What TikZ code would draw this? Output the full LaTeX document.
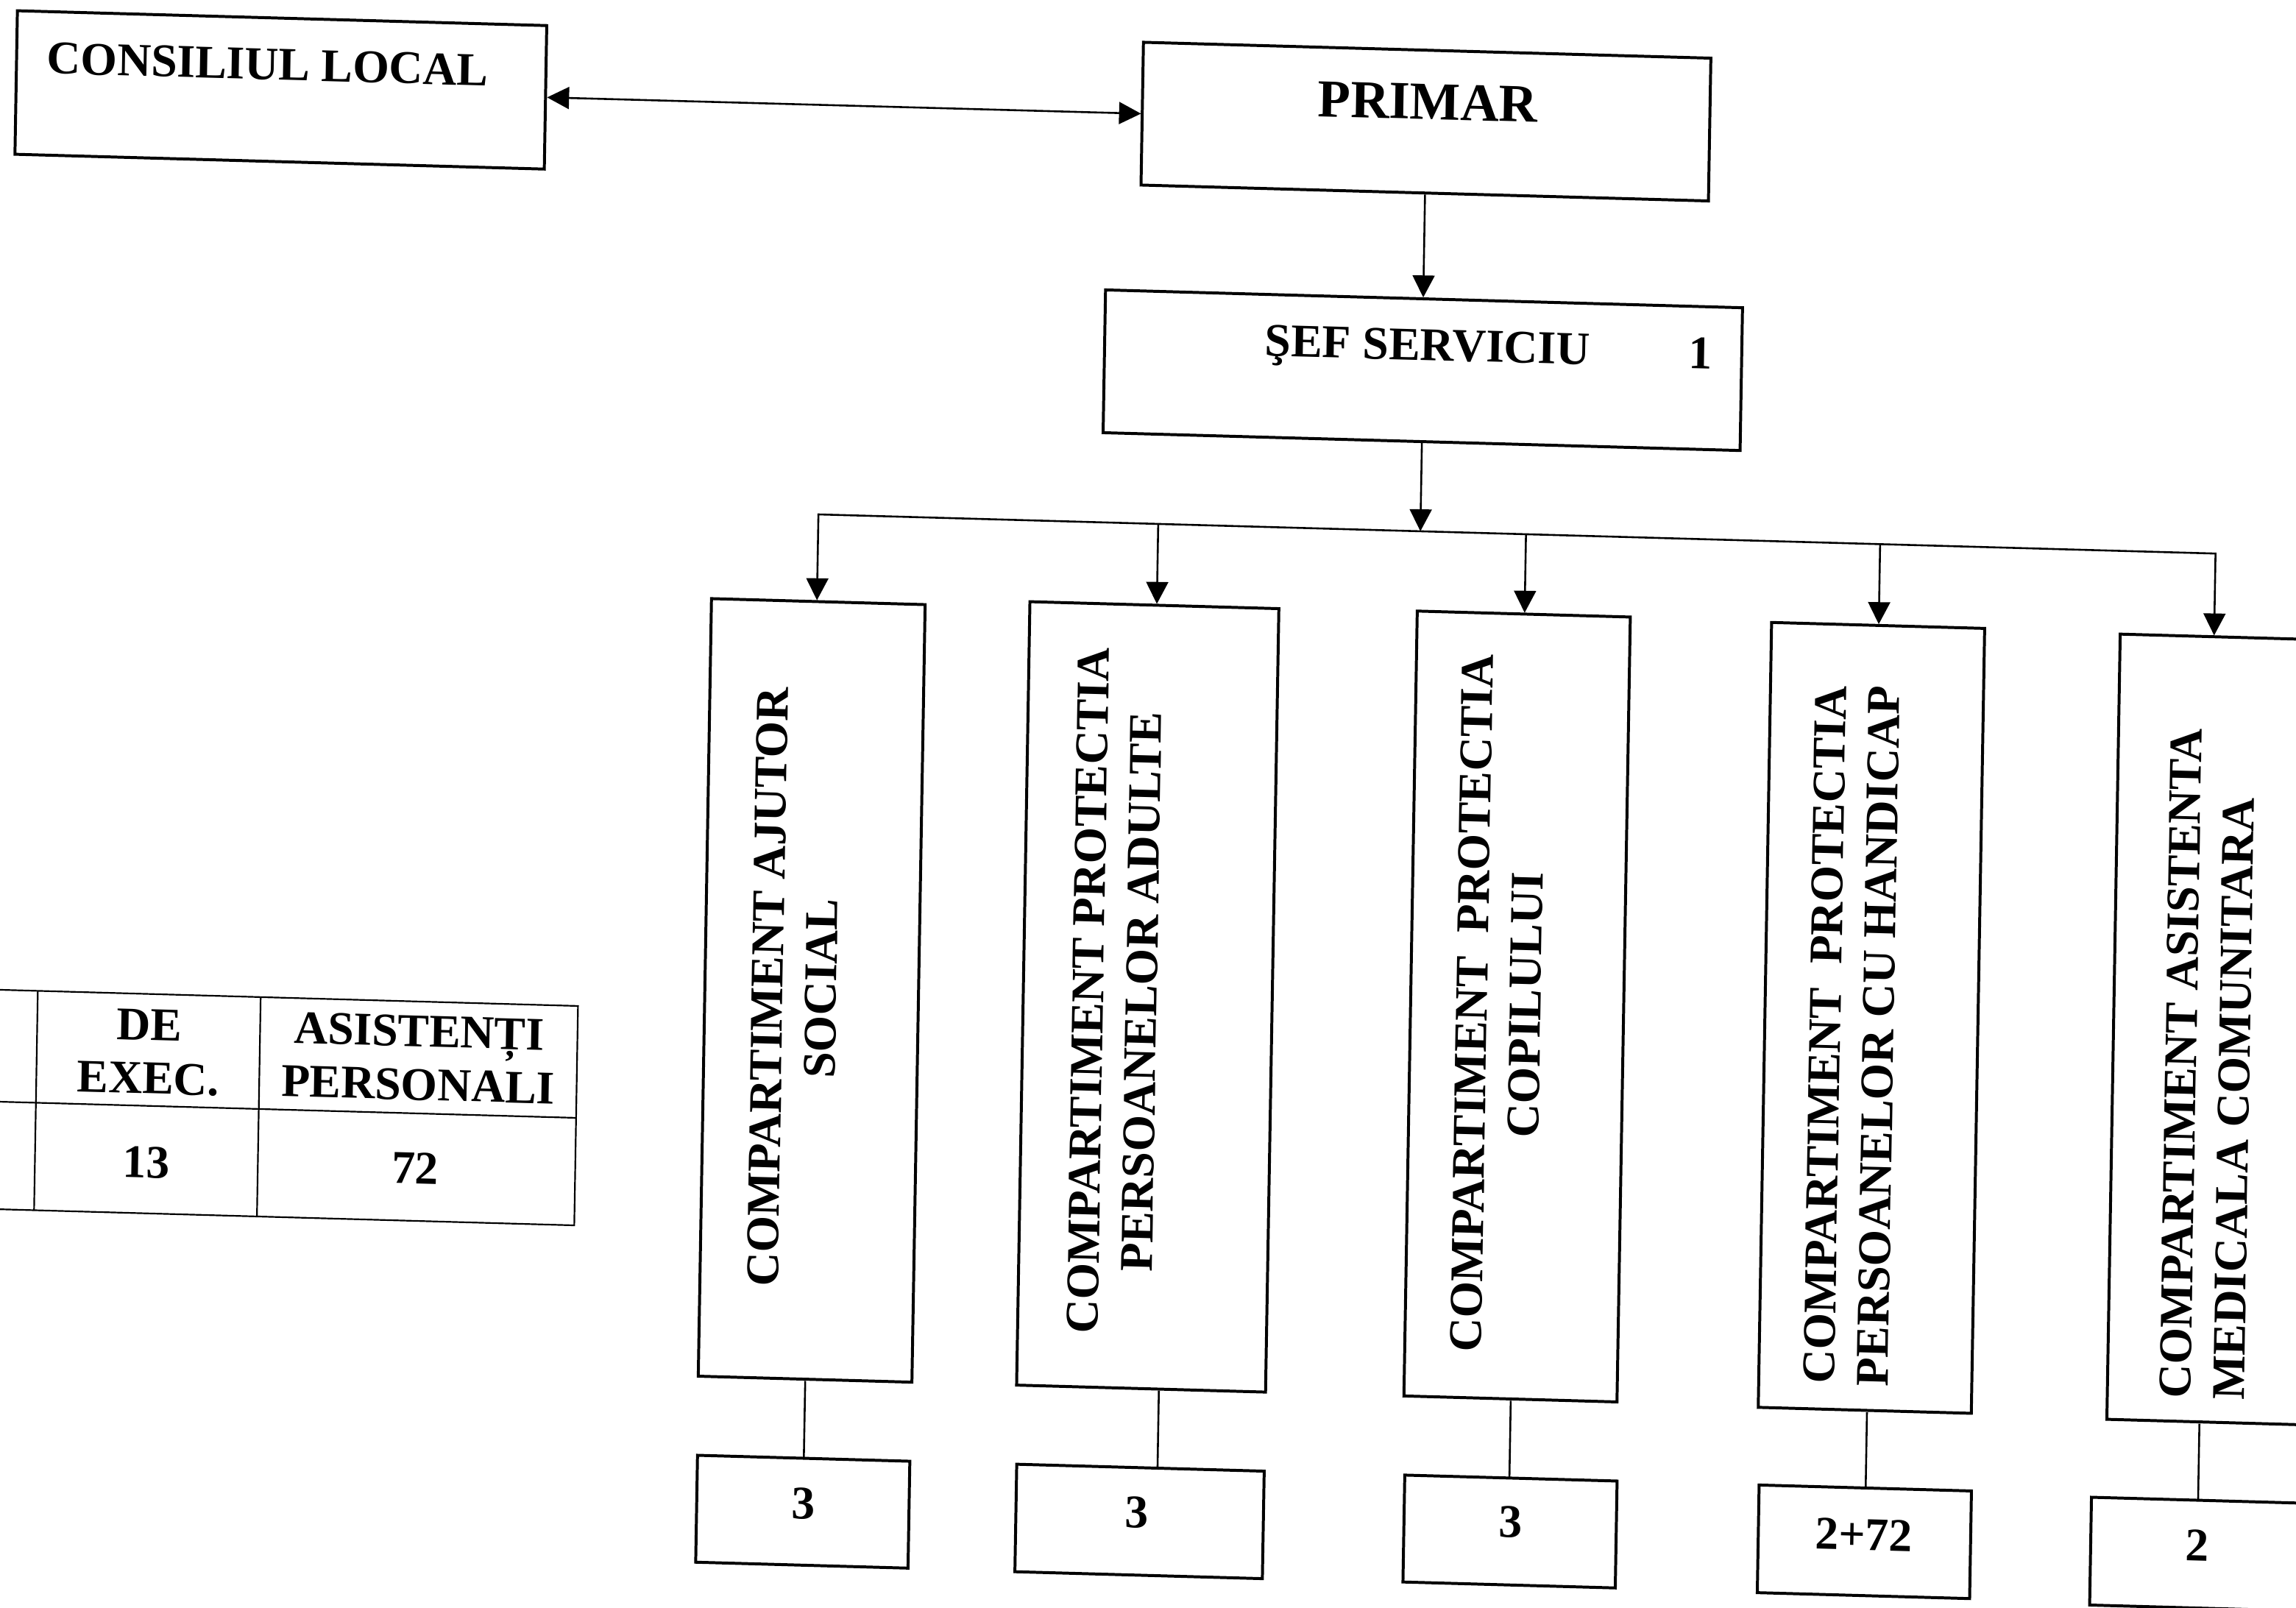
\documentclass[tikz,border=0pt]{standalone}
\usepackage{fontspec}
\setmainfont{Liberation Serif}
\usetikzlibrary{arrows.meta}
\begin{document}
\begin{tikzpicture}[x=1pt,y=-1pt,
  box/.style={draw, line width=2pt, rectangle, inner sep=0pt},
  conn/.style={line width=1.3pt, line cap=rect},
  arr/.style={line width=1.3pt, -{Triangle[length=15pt,width=15pt]}},
  darr/.style={line width=1.3pt, {Triangle[length=15pt,width=15pt]}-{Triangle[length=15pt,width=15pt]}},
  lbl/.style={font=\fontsize{32}{36.5}\selectfont\bfseries, inner sep=0pt, align=center},
  vlbl/.style={lbl, rotate=90},
  tbl/.style={line width=1.1pt}]
\useasboundingbox (0,0) rectangle (1568,1098);
\clip (0,0) rectangle (1568,1098);
\begin{scope}[cm={1,-0.028,0.017,1,(0,0)}, transform shape]
% top boxes
\node[box, minimum width=361.5pt, minimum height=98pt] (cons) at (192.75,56) {};
\node[box, minimum width=387.5pt, minimum height=97.5pt] (primar) at (974.75,55.75) {};
\node[box, minimum width=435pt, minimum height=97.5pt] (sef) at (975.5,225.5) {};
\node[lbl, anchor=base] (tcons) at (183.5,49.3) {CONSILIUL LOCAL};
\node[lbl, font=\fontsize{36.5}{40}\selectfont\bfseries, anchor=base] (tprim) at (975.9,54.2) {PRIMAR};
\node[lbl, anchor=base] (tsef) at (978.6,218.6) {ŞEF SERVICIU};
\node[lbl, anchor=base] (tsefn) at (1164.8,219.1) {1};
% tall boxes
\node[box, minimum width=145.9pt, minimum height=531pt] (b1) at (565.55,660.5) {};
\node[box, minimum width=170pt, minimum height=535pt] (b2) at (795,658.5) {};
\node[box, minimum width=145.5pt, minimum height=536pt] (b3) at (1047.25,658) {};
\node[box, minimum width=145.5pt, minimum height=536pt] (b4) at (1289.25,659) {};
\node[box, minimum width=140.4pt, minimum height=536.2pt] (b5) at (1524.8,660.4) {};
\node[vlbl] (tb1) at (553.7,659) {COMPARTIMENT AJUTOR\\SOCIAL};
\node[vlbl] (tb2) at (772.5,655.3) {COMPARTIMENT PROTECTIA\\PERSOANELOR ADULTE};
\node[vlbl] (tb3) at (1034.6,656.6) {COMPARTIMENT\ \ PROTECTIA\\COPILULUI};
\node[vlbl] (tb4) at (1276,671.3) {COMPARTIMENT\ \ PROTECTIA\\PERSOANELOR CU HANDICAP};
\node[vlbl, align=left, anchor=west] (tb5) at (1519.3,913) {COMPARTIMENT ASISTENTA\\MEDICALA COMUNITARA};
% small boxes
\node[box, minimum width=145pt, minimum height=73pt] (s1) at (565.5,1016.5) {};
\node[box, minimum width=169pt, minimum height=73.4pt] (s2) at (795.5,1016.7) {};
\node[box, minimum width=145pt, minimum height=73pt] (s3) at (1048.5,1016.5) {};
\node[box, minimum width=145pt, minimum height=73.5pt] (s4) at (1290.5,1016.75) {};
\node[box, minimum width=145pt, minimum height=73.6pt] (s5) at (1517.5,1018.8) {};
\node[lbl] (n1) at (565.9,1011) {3};
\node[lbl] (n2) at (793.7,1010.5) {3};
\node[lbl] (n3) at (1048.7,1010) {3};
\node[lbl] (n4) at (1290.1,1011.7) {2+72};
\node[lbl] (n5) at (1517.5,1012.8) {2};
% connectors
\draw[darr] (cons.east) -- (primar.west);
\draw[arr] (primar.south) -- (primar.south |- sef.north);
\coordinate (busL) at (564.5,335.4);
\coordinate (busR) at (1518.4,335.4);
\coordinate (d2) at (796.5,335.4);
\coordinate (d3) at (1047.6,335.4);
\coordinate (d4) at (1289.4,335.4);
\draw[arr] (sef.south) -- (sef.south |- busL);
\draw[conn] (busL) -- (busR);
\draw[arr] (busL) -- (busL |- b1.north);
\draw[arr] (d2) -- (d2 |- b2.north);
\draw[arr] (d3) -- (d3 |- b3.north);
\draw[arr] (d4) -- (d4 |- b4.north);
\draw[arr] (busR) -- (busR |- b5.north);
\coordinate (l2) at (807,950);
\draw[conn, line cap=butt] (b1.south) -- (s1.north);
\draw[conn, line cap=butt] (b2.south -| l2) -- (s2.north -| l2);
\draw[conn, line cap=butt] (b3.south) -- (b3.south |- s3.north);
\draw[conn, line cap=butt] (s4.north |- b4.south) -- (s4.north);
\draw[conn, line cap=butt] (s5.north |- b5.south) -- (s5.north);
% table
\draw[tbl] (-40,675.6) -- (406.2,675.6) -- (406.2,825.4) -- (-40,825.4);
\draw[tbl] (-40,752) -- (406.2,752);
\draw[tbl] (37.3,675.6) -- (37.3,825.4);
\draw[tbl] (189.5,675.6) -- (189.5,825.4);
\node[lbl] (th1) at (113.7,715.2) {DE\\EXEC.};
\node[lbl] (th2) at (298,714.2) {ASISTENȚI\\PERSONALI};
\node[lbl] (tv1) at (113.5,790.8) {13};
\node[lbl] (tv2) at (297,789.5) {72};
\end{scope}
\end{tikzpicture}
\end{document}
